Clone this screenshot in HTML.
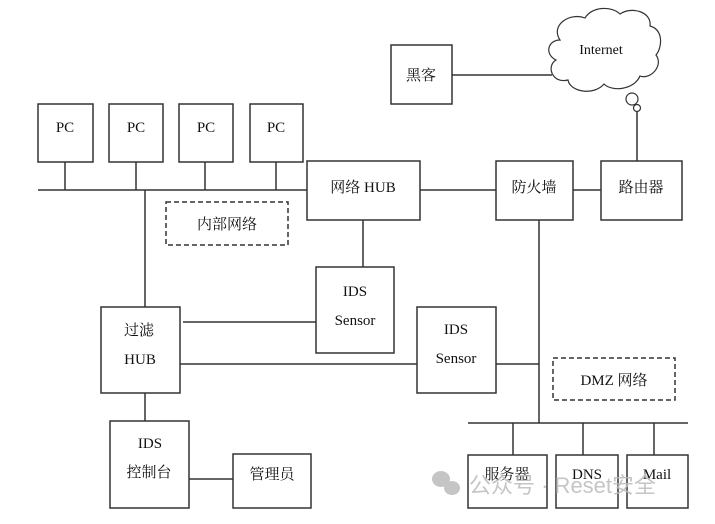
<!DOCTYPE html>
<html><head><meta charset="utf-8"><style>
html,body{margin:0;padding:0;background:#fff}
svg text{font-family:"Liberation Serif","Noto Serif CJK SC",serif;font-size:15px;fill:#111;text-anchor:middle}
</style></head><body>
<svg width="715" height="519" viewBox="0 0 715 519" xmlns="http://www.w3.org/2000/svg">
<g stroke="#333" stroke-width="1.5" fill="none">
<line x1="38" y1="190" x2="307" y2="190"/>
<line x1="65" y1="162" x2="65" y2="190"/>
<line x1="136" y1="162" x2="136" y2="190"/>
<line x1="205" y1="162" x2="205" y2="190"/>
<line x1="276" y1="162" x2="276" y2="190"/>
<rect x="38" y="104" width="55" height="58"/>
<rect x="109" y="104" width="54" height="58"/>
<rect x="179" y="104" width="54" height="58"/>
<rect x="250" y="104" width="53" height="58"/>
<rect x="307" y="161" width="113" height="59"/>
<line x1="420" y1="190" x2="496" y2="190"/>
<rect x="496" y="161" width="77" height="59"/>
<line x1="573" y1="190" x2="601" y2="190"/>
<rect x="601" y="161" width="81" height="59"/>
<line x1="637" y1="161" x2="637" y2="112"/>
<rect x="391" y="45" width="61" height="59"/>
<line x1="452" y1="75" x2="552" y2="75"/>
<path d="M560 40 C550 25 570 12 585 18 C592 6 612 6 620 14 C632 6 652 12 650 26 C664 30 662 48 656 55 C664 66 650 80 640 76 C634 90 612 92 604 84 C594 96 570 92 568 80 C552 84 546 66 556 60 C544 54 548 40 560 40 Z" stroke-width="1.2"/>
<circle cx="632" cy="99" r="6" stroke-width="1.2"/>
<circle cx="637" cy="108" r="3.5" stroke-width="1.2"/>
<rect x="166" y="202" width="122" height="43" stroke-dasharray="5,3"/>
<rect x="553" y="358" width="122" height="42" stroke-dasharray="5,3"/>
<line x1="145" y1="190" x2="145" y2="307"/>
<line x1="363" y1="220" x2="363" y2="267"/>
<rect x="316" y="267" width="78" height="86"/>
<rect x="101" y="307" width="79" height="86"/>
<line x1="183" y1="322" x2="316" y2="322"/>
<line x1="180" y1="364" x2="417" y2="364"/>
<rect x="417" y="307" width="79" height="86"/>
<line x1="496" y1="364" x2="539" y2="364"/>
<line x1="539" y1="220" x2="539" y2="423"/>
<line x1="468" y1="423" x2="688" y2="423"/>
<line x1="513" y1="423" x2="513" y2="455"/>
<line x1="583" y1="423" x2="583" y2="455"/>
<line x1="654" y1="423" x2="654" y2="455"/>
<rect x="468" y="455" width="79" height="53"/>
<rect x="556" y="455" width="62" height="53"/>
<rect x="627" y="455" width="61" height="53"/>
<line x1="145" y1="393" x2="145" y2="421"/>
<rect x="110" y="421" width="79" height="87"/>
<line x1="189" y1="479" x2="233" y2="479"/>
<rect x="233" y="454" width="78" height="54"/>
</g>
<text x="65" y="132">PC</text>
<text x="136" y="132">PC</text>
<text x="206" y="132">PC</text>
<text x="276" y="132">PC</text>
<text x="363" y="192">网络 HUB</text>
<text x="534" y="192">防火墙</text>
<text x="641" y="192">路由器</text>
<text x="421" y="80">黑客</text>
<text x="601" y="54" style="font-size:14px">Internet</text>
<text x="227" y="229">内部网络</text>
<text x="614" y="385">DMZ 网络</text>
<text x="355" y="296">IDS</text>
<text x="355" y="325">Sensor</text>
<text x="456" y="334">IDS</text>
<text x="456" y="363">Sensor</text>
<text x="139" y="335">过滤</text>
<text x="140" y="364">HUB</text>
<text x="150" y="448">IDS</text>
<text x="149" y="477">控制台</text>
<text x="272" y="479">管理员</text>
<text x="507" y="479">服务器</text>
<text x="587" y="479">DNS</text>
<text x="657" y="479">Mail</text>
<g fill="#bbb" opacity="0.85">
<ellipse cx="441" cy="479" rx="9" ry="8"/><ellipse cx="452" cy="488" rx="8" ry="7"/>
</g>
<text x="469" y="493" style="text-anchor:start;font-family:'Liberation Sans','Noto Sans CJK SC',sans-serif;font-size:22px;fill:#bbb;opacity:0.85">公众号 · Reset安全</text>
</svg>
</body></html>
